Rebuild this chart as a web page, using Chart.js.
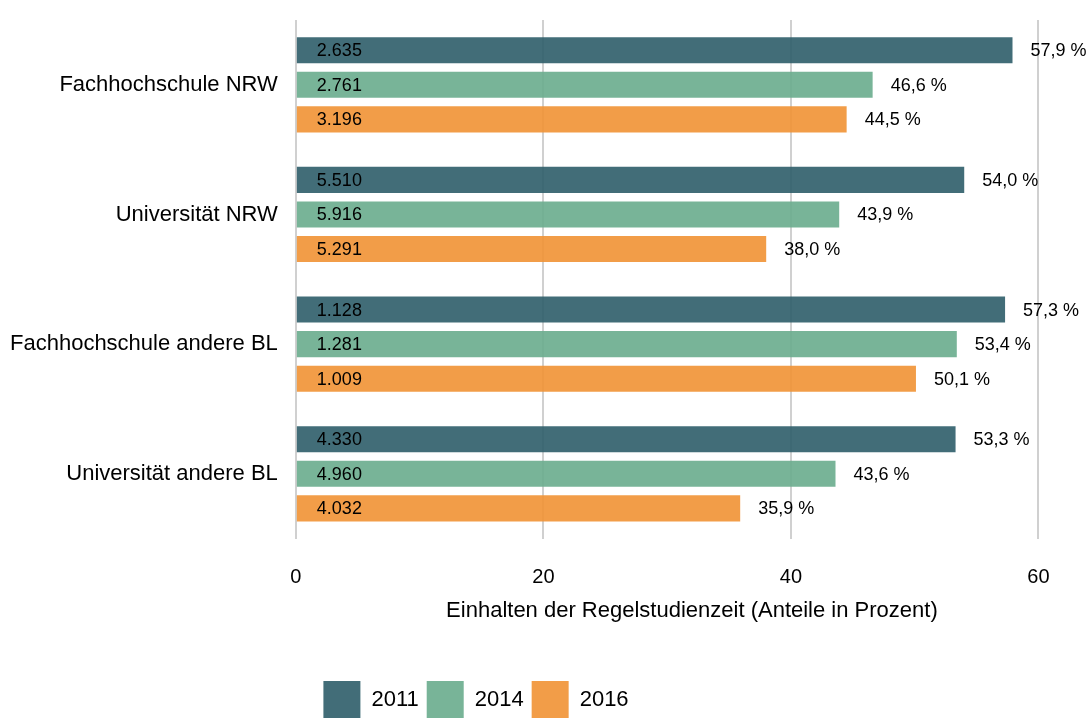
<!DOCTYPE html>
<html>
<head>
<meta charset="utf-8">
<script src="https://cdn.jsdelivr.net/npm/chart.js@4"></script>
<style>
  body { margin: 0; background: #fff; }
  #wrap { width: 1092px; height: 718px; }
</style>
</head>
<body>
<div id="wrap"><canvas id="chart"></canvas></div>
<script>
const categories = ['Fachhochschule NRW', 'Universität NRW', 'Fachhochschule andere BL', 'Universität andere BL'];
const years = ['2011', '2014', '2016'];
const share2011 = [57.9, 54.0, 57.3, 53.3];
const share2014 = [46.6, 43.9, 53.4, 43.6];
const share2016 = [44.5, 38.0, 50.1, 35.9];
const count2011 = ['2.635', '5.510', '1.128', '4.330'];
const count2014 = ['2.761', '5.916', '1.281', '4.960'];
const count2016 = ['3.196', '5.291', '1.009', '4.032'];
const xTicks = [0, 20, 40, 60];

const colors = ['rgba(46,93,105,0.9)', 'rgba(105,172,141,0.9)', 'rgba(241,146,52,0.9)'];
const counts = [count2011, count2014, count2016];
const FONT = '"Liberation Sans", Arial, sans-serif';

// labels inside (count) and after (percent) each bar
const barLabels = {
  id: 'barLabels',
  afterDatasetsDraw(chart) {
    const ctx = chart.ctx;
    ctx.save();
    ctx.fillStyle = '#000';
    ctx.textBaseline = 'middle';
    ctx.textAlign = 'left';
    ctx.font = '18px ' + FONT;
    chart.data.datasets.forEach((ds, i) => {
      chart.getDatasetMeta(i).data.forEach((bar, j) => {
        ctx.fillText(counts[i][j], bar.base + 20, bar.y + 1);
        ctx.fillText(ds.data[j].toFixed(1).replace('.', ',') + ' %', bar.x + 18, bar.y + 1);
      });
    });
    ctx.restore();
  }
};

// legend sits a bit left of the canvas centre in the original
const shiftLegend = {
  id: 'shiftLegend',
  afterLayout(chart) {
    chart.legend.left -= 64;
    chart.legend.right -= 64;
  }
};

new Chart(document.getElementById('chart'), {
  type: 'bar',
  data: {
    labels: categories,
    datasets: [
      { label: years[0], data: share2011, backgroundColor: colors[0] },
      { label: years[1], data: share2014, backgroundColor: colors[1] },
      { label: years[2], data: share2016, backgroundColor: colors[2] }
    ]
  },
  options: {
    indexAxis: 'y',
    responsive: true,
    maintainAspectRatio: false,
    animation: false,
    categoryPercentage: 0.8,
    barPercentage: 0.754,
    layout: { padding: { top: 20, left: -8, right: 4, bottom: -10 } },
    scales: {
      x: {
        min: 0,
        max: 64,
        border: { display: false },
        grid: { color: '#d0d0d0', lineWidth: 2, drawTicks: false, tickLength: 0 },
        afterBuildTicks: (axis) => { axis.ticks = xTicks.map(v => ({ value: v })); },
        ticks: {
          color: '#000',
          padding: 27,
          font: { family: FONT, size: 20 }
        },
        title: {
          display: true,
          text: 'Einhalten der Regelstudienzeit (Anteile in Prozent)',
          color: '#000',
          padding: { top: -19, bottom: 49 },
          font: { family: FONT, size: 22 }
        }
      },
      y: {
        border: { display: false },
        grid: { display: false, drawTicks: false, tickLength: 0 },
        afterFit: (axis) => { axis.paddingTop = 0; axis.paddingBottom = 0; },
        ticks: {
          color: '#000',
          padding: 18,
          font: { family: FONT, size: 22 }
        }
      }
    },
    plugins: {
      legend: {
        position: 'bottom',
        labels: {
          boxWidth: 37,
          boxHeight: 37,
          padding: 8,
          color: '#000',
          font: { family: FONT, size: 22 }
        }
      },
      tooltip: { enabled: false }
    }
  },
  plugins: [barLabels, shiftLegend]
});
</script>
</body>
</html>
